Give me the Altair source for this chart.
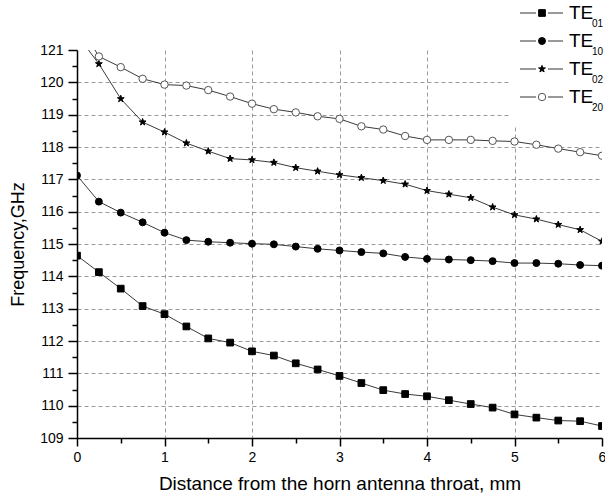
import altair as alt
import pandas as pd

# ---- data ----
series = ["TE01", "TE10", "TE02", "TE20"]
distance = [0, 0.25, 0.5, 0.75, 1, 1.25, 1.5, 1.75, 2, 2.25, 2.5, 2.75, 3,
            3.25, 3.5, 3.75, 4, 4.25, 4.5, 4.75, 5, 5.25, 5.5, 5.75, 6]
te01 = [114.64, 114.13, 113.62, 113.08, 112.83, 112.45, 112.08, 111.95, 111.68,
        111.55, 111.31, 111.12, 110.92, 110.70, 110.48, 110.36, 110.29, 110.17,
        110.05, 109.94, 109.73, 109.63, 109.54, 109.52, 109.37]
te10 = [117.12, 116.31, 115.97, 115.67, 115.35, 115.12, 115.07, 115.04, 115.01,
        114.99, 114.92, 114.85, 114.80, 114.75, 114.71, 114.60, 114.54, 114.52,
        114.50, 114.47, 114.41, 114.41, 114.39, 114.35, 114.33]
te02 = [121.47, 120.57, 119.49, 118.77, 118.46, 118.12, 117.87, 117.64, 117.60,
        117.52, 117.36, 117.25, 117.14, 117.05, 116.96, 116.85, 116.65, 116.54,
        116.43, 116.14, 115.90, 115.77, 115.60, 115.44, 115.08]
te20 = [121.90, 120.80, 120.47, 120.11, 119.93, 119.90, 119.76, 119.56, 119.34,
        119.17, 119.07, 118.95, 118.87, 118.64, 118.54, 118.34, 118.22, 118.22,
        118.22, 118.19, 118.17, 118.07, 117.95, 117.84, 117.73]

x_ticks = [0, 0.5, 1, 1.5, 2, 2.5, 3, 3.5, 4, 4.5, 5, 5.5, 6]
y_ticks = [109, 109.5, 110, 110.5, 111, 111.5, 112, 112.5, 113, 113.5, 114, 114.5,
           115, 115.5, 116, 116.5, 117, 117.5, 118, 118.5, 119, 119.5, 120, 120.5, 121]

values = {"TE01": te01, "TE10": te10, "TE02": te02, "TE20": te20}
rows = []
for s in series:
    for d, v in zip(distance, values[s]):
        rows.append({"series": s, "distance": d, "freq": v})
df = pd.DataFrame(rows)

FONT = "Liberation Sans"
STAR = ("M0,-1L0.235,-0.324L0.951,-0.309L0.380,0.124L0.588,0.809L0,0.4"
        "L-0.588,0.809L-0.380,0.124L-0.951,-0.309L-0.235,-0.324Z")

shape_scale = alt.Scale(domain=series, range=["square", "circle", STAR, "circle"])
fill_scale = alt.Scale(domain=series, range=["black", "black", "black", "white"])
stroke_scale = alt.Scale(domain=series, range=["black", "black", "black", "#555555"])
size_scale = alt.Scale(domain=series, range=[45, 55, 85, 60])

is_major = "datum.value % 1 === 0"
label_expr = f"{is_major} ? format(datum.value, 'd') : ''"

x_axis = alt.Axis(
    values=x_ticks,
    labelExpr=label_expr,
    tickSize={"condition": {"test": is_major, "value": 8}, "value": 5},
    grid=True,
    gridOpacity={"condition": {"test": f"{is_major} && datum.value > 0 && datum.value < 6", "value": 1}, "value": 0},
    gridDash=[4, 3], gridColor="#9a9a9a", gridWidth=1,
    domainColor="black", domainWidth=1.5, tickColor="black", tickWidth=1.5,
    labelFont=FONT, labelFontSize=14, labelColor="black", labelPadding=4,
    labelFlush=False, labelOverlap=False,
    title="Distance from the horn antenna throat, mm",
    titleFont=FONT, titleFontSize=19, titleFontWeight="normal", titleColor="black",
    titlePadding=10,
)
y_axis = alt.Axis(
    values=y_ticks,
    labelExpr=label_expr,
    tickSize={"condition": {"test": is_major, "value": 9}, "value": 5},
    grid=True,
    gridOpacity={"condition": {"test": f"{is_major} && datum.value > 109 && datum.value < 121", "value": 1}, "value": 0},
    gridDash=[4, 3], gridColor="#9a9a9a", gridWidth=1,
    domainColor="black", domainWidth=1.5, tickColor="black", tickWidth=1.5,
    labelFont=FONT, labelFontSize=14, labelColor="black", labelPadding=5,
    labelFlush=False, labelOverlap=False,
    title="Frequency,GHz",
    titleFont=FONT, titleFontSize=18, titleFontWeight="normal", titleColor="black",
    titlePadding=12,
)

xenc = alt.X("distance:Q", scale=alt.Scale(domain=[0, 6], nice=False, zero=False), axis=x_axis)
yenc = alt.Y("freq:Q", scale=alt.Scale(domain=[109, 121], nice=False, zero=False), axis=y_axis)

base = alt.Chart(df)
lines = base.mark_line(color="#3a3a3a", strokeWidth=1, clip=True).encode(
    x=xenc, y=yenc, detail="series:N", order="distance:Q")
points = base.mark_point(filled=True, opacity=1, strokeWidth=1, clip=True).encode(
    x=xenc, y=yenc,
    shape=alt.Shape("series:N", scale=shape_scale, legend=None),
    fill=alt.Fill("series:N", scale=fill_scale, legend=None),
    stroke=alt.Stroke("series:N", scale=stroke_scale, legend=None),
    size=alt.Size("series:N", scale=size_scale, legend=None),
)
main = alt.layer(lines, points)

# ---- hand-built legend (for subscript labels) ----
leg_df = pd.DataFrame({"series": series, "idx": list(range(len(series)))})
leg = alt.Chart(leg_df).transform_calculate(
    ly="-37 + 28 * datum.idx",
    main="substring(datum.series, 0, 2)",
    sub="substring(datum.series, 2)",
)
ly = alt.Y("ly:Q", scale=None, axis=None)
box = alt.Chart(pd.DataFrame({"k": [0]})).mark_rect(fill="white").encode(
    x=alt.value(433), x2=alt.value(532), y=alt.value(-50), y2=alt.value(75))
seg_l = leg.mark_rule(color="#333333", strokeWidth=1).encode(
    x=alt.value(443), x2=alt.value(459), y=ly)
seg_r = leg.mark_rule(color="#333333", strokeWidth=1).encode(
    x=alt.value(471), x2=alt.value(486), y=ly)
leg_pts = leg.mark_point(filled=True, opacity=1, strokeWidth=1).encode(
    x=alt.value(465), y=ly,
    shape=alt.Shape("series:N", scale=shape_scale, legend=None),
    fill=alt.Fill("series:N", scale=fill_scale, legend=None),
    stroke=alt.Stroke("series:N", scale=stroke_scale, legend=None),
    size=alt.Size("series:N", scale=size_scale, legend=None),
)
leg_main = leg.mark_text(align="left", baseline="alphabetic", font=FONT, fontSize=19,
                         color="black", dy=6).encode(
    x=alt.value(492), y=ly, text="main:N")
leg_sub = leg.mark_text(align="left", baseline="alphabetic", font=FONT, fontSize=10,
                        color="black", dy=13.5).encode(
    x=alt.value(515), y=ly, text="sub:N")
legend = alt.layer(box, seg_l, seg_r, leg_pts, leg_main, leg_sub)

chart = alt.layer(main, legend).resolve_scale(
    x="independent", y="independent"
).properties(
    width=525, height=388,
    autosize=alt.AutoSizeParams(type="none"),
    padding={"left": 77, "top": 50, "right": 3, "bottom": 61},
    background="white",
).configure_view(strokeWidth=0)

chart.save("out.html", embed_options={"renderer": "svg", "actions": False})
